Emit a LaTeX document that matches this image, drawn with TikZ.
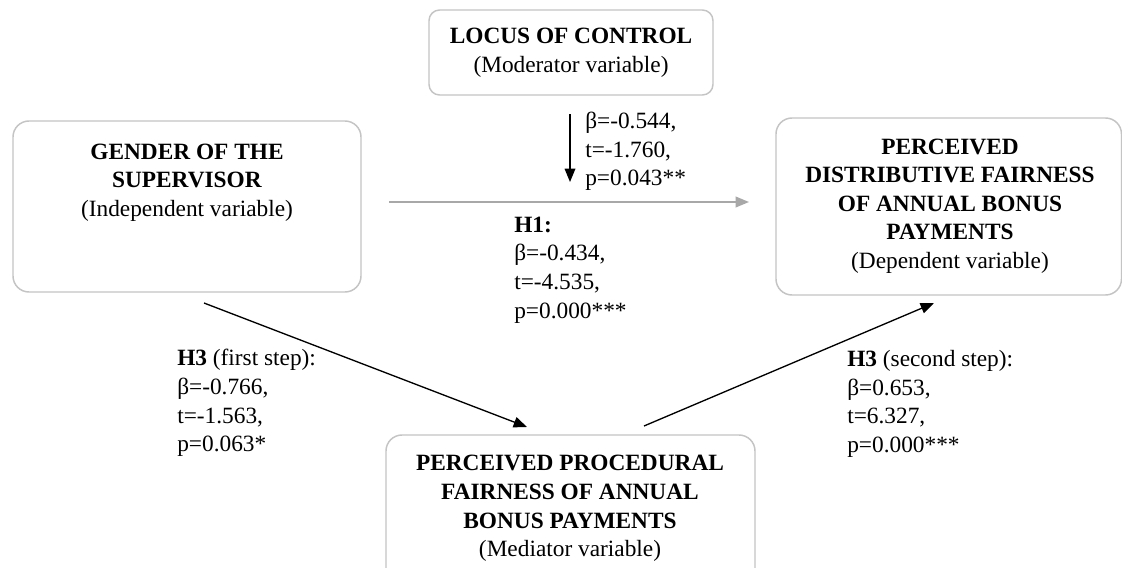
\documentclass[tikz,border=0pt]{standalone}
\usepackage{fontspec}
\setmainfont{Liberation Serif}
\usetikzlibrary{arrows.meta,fit}
\definecolor{boxgray}{HTML}{C4C4C4}
\definecolor{arrgray}{HTML}{A8A8A8}
\begin{document}
\begin{tikzpicture}[x=0.75pt,y=-0.75pt,
  box/.style={draw=boxgray, line width=1.1pt, rounded corners=12pt, inner sep=0pt, fill=white},
  lbl/.style={inner sep=0pt, align=center, font=\fontsize{17.5}{21.45}\selectfont},
  stat/.style={inner sep=0pt, align=left, anchor=west, font=\fontsize{17.5}{21.45}\selectfont},
  arr/.style={line width=1pt, -{Triangle[length=10pt,width=8pt]}},
]
\clip (0,0) rectangle (1122,568);
\fill[white] (0,0) rectangle (1122,568);

% boxes
\node[box, rounded corners=8pt, fit={(429,10)(713,95)}] (locus) {};
\node[box, fit={(13,121)(361,292)}] (gender) {};
\node[box, fit={(776,118)(1121.5,295)}] (dist) {};
\node[box, fit={(386,435)(755,590)}] (medi) {};

% box texts
\node[lbl] (locustxt) at (571,53) {\textbf{LOCUS OF CONTROL}\\(Moderator variable)};
\node[lbl] (gendertxt) at (187,182.5) {\textbf{GENDER OF THE}\\\textbf{SUPERVISOR}\\(Independent variable)};
\node[lbl] (disttxt) at (950,206) {\textbf{PERCEIVED}\\\textbf{DISTRIBUTIVE FAIRNESS}\\\textbf{OF ANNUAL BONUS}\\\textbf{PAYMENTS}\\(Dependent variable)};
\node[lbl] (meditxt) at (570,508.5) {\textbf{PERCEIVED PROCEDURAL}\\\textbf{FAIRNESS OF ANNUAL}\\\textbf{BONUS PAYMENTS}\\(Mediator variable)};

% statistics
\node[stat] (modstat) at (585,151.5) {β=-0.544,\\t=-1.760,\\p=0.043**};
\node[stat] (h1stat) at (514,270) {\textbf{H1:}\\β=-0.434,\\t=-4.535,\\p=0.000***};
\node[stat] (h3astat) at (177,403) {\textbf{H3} (first step):\\β=-0.766,\\t=-1.563,\\p=0.063*};
\node[stat] (h3bstat) at (847,404) {\textbf{H3} (second step):\\β=0.653,\\t=6.327,\\p=0.000***};

% connector end points
\coordinate (ms) at (570,114);
\coordinate (me) at (570,182);
\coordinate (h1s) at (389,202);
\coordinate (h1e) at (749,202);
\coordinate (as) at (204,303);
\coordinate (ae) at (527,427);
\coordinate (bs) at (644,426);
\coordinate (be) at (934,303);

\draw[arr, line width=0.9pt] (ms) -- (me);
\draw[arr, draw=arrgray, fill=arrgray, line width=1.2pt] (h1s) -- (h1e);
\draw[arr] (as) -- (ae);
\draw[arr] (bs) -- (be);
\end{tikzpicture}
\end{document}
